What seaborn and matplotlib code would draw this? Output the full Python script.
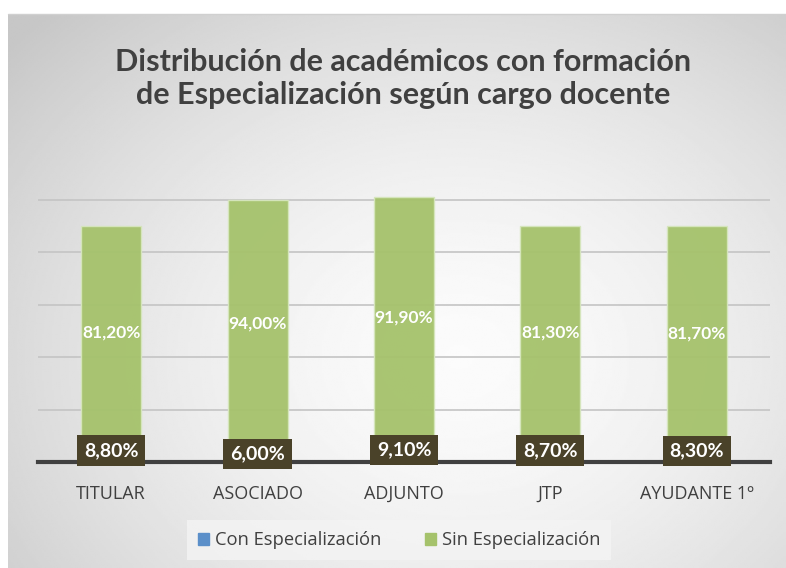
import numpy as np
import pandas as pd
import matplotlib.pyplot as plt
import seaborn as sns

# ------------------------- Data -------------------------

cargos = ["TITULAR", "ASOCIADO", "ADJUNTO", "JTP", "AYUDANTE 1º"]
con_esp = [8.8, 6.0, 9.1, 8.7, 8.3]
sin_esp = [81.2, 94.0, 91.9, 81.3, 81.7]

df = pd.DataFrame({"cargo": cargos, "con": con_esp, "sin": sin_esp})
df["total"] = df["con"] + df["sin"]

azul = "#5b8fc9"
verde = "#a5c26b"
oscuro = "#4a4229"
texto = "#404040"

sns.set_style("white")
plt.rcParams["font.family"] = ["Lato", "DejaVu Sans"]

fig = plt.figure(figsize=(7.86, 5.68), dpi=100)

# ------------------------- Background gradient -------------------------

bg = fig.add_axes([8 / 786, 0, 1 - 8 / 786, 554 / 568])
yy, xx = np.mgrid[0:1:300j, 0:1:400j]
r = np.sqrt(((xx - 0.58) / 0.75) ** 2 + ((yy - 0.62) / 0.85) ** 2)
grad = np.clip(0.985 - 0.2 * r ** 1.6, 0.78, 1.0)
bg.imshow(grad, cmap="gray", vmin=0, vmax=1, aspect="auto", extent=[0, 1, 0, 1])
bg.set_axis_off()
fig.add_artist(plt.Line2D([8 / 786, 1], [554 / 568, 554 / 568], color="#d0d0d0", lw=1))

# ------------------------- Bars -------------------------

ax = fig.add_axes([38 / 786, 106 / 568, 732 / 786, 314.4 / 568])
ax.set_facecolor("none")

sns.barplot(data=df, x="cargo", y="total", color=verde, width=0.41, alpha=0.95,
            edgecolor="#d6e6bd", linewidth=1, saturation=1, ax=ax, zorder=2)
sns.barplot(data=df, x="cargo", y="con", color=azul, width=0.41,
            saturation=1, ax=ax, zorder=3)

ax.set_ylim(0, 120)
ax.set_yticks([20, 40, 60, 80, 100])
ax.yaxis.grid(True, color="#c4c4c4", lw=1.2, zorder=0)
ax.set_axisbelow(True)
ax.tick_params(axis="y", left=False, labelleft=False)
ax.set_xticks(range(len(cargos)))
ax.set_xticklabels(cargos, fontfamily=["Open Sans", "DejaVu Sans"], fontsize=13,
                   color=texto)
ax.tick_params(axis="x", bottom=False, pad=13)
ax.set_xlabel("")
ax.set_ylabel("")
ax.set_xlim(-0.5, 4.5)
for s in ["top", "right", "left"]:
    ax.spines[s].set_visible(False)
ax.spines["bottom"].set_color("#404040")
ax.spines["bottom"].set_linewidth(3)
ax.spines["bottom"].set_zorder(4)

for i, row in df.iterrows():
    ax.text(i, row["con"] + row["sin"] / 2, f"{row['sin']:.2f}%".replace(".", ","),
            ha="center", va="center", color="white", fontsize=12.5,
            fontweight="bold", zorder=5)
    ax.text(i, row["con"] / 2, f"{row['con']:.2f}%".replace(".", ","),
            ha="center", va="center", color="white", fontsize=14,
            fontweight="bold", zorder=6, clip_on=False,
            bbox=dict(boxstyle="square,pad=0.35", fc=oscuro, ec="none"))

# ------------------------- Title & legend -------------------------

fig.text(0.513, 0.862, "Distribución de académicos con formación\nde Especialización según cargo docente",
         ha="center", va="center", fontsize=22, fontweight="bold", color=texto,
         linespacing=1.25)

handles = [plt.Rectangle((0, 0), 1, 1, color=azul), plt.Rectangle((0, 0), 1, 1, color=verde)]
leg = fig.legend(handles, ["Con Especialización", "Sin Especialización"],
                 loc="center", bbox_to_anchor=(0.508, 0.049), ncol=2, frameon=True,
                 prop={"family": ["Open Sans", "DejaVu Sans"], "size": 13.2},
                 handlelength=0.6, handleheight=0.6, handletextpad=0.3,
                 columnspacing=2.4, fancybox=False, borderpad=0.6)
leg.get_frame().set_facecolor("#f4f4f4")
leg.get_frame().set_edgecolor("none")
for t in leg.get_texts():
    t.set_color(texto)

fig.savefig("out.png", dpi=100)
